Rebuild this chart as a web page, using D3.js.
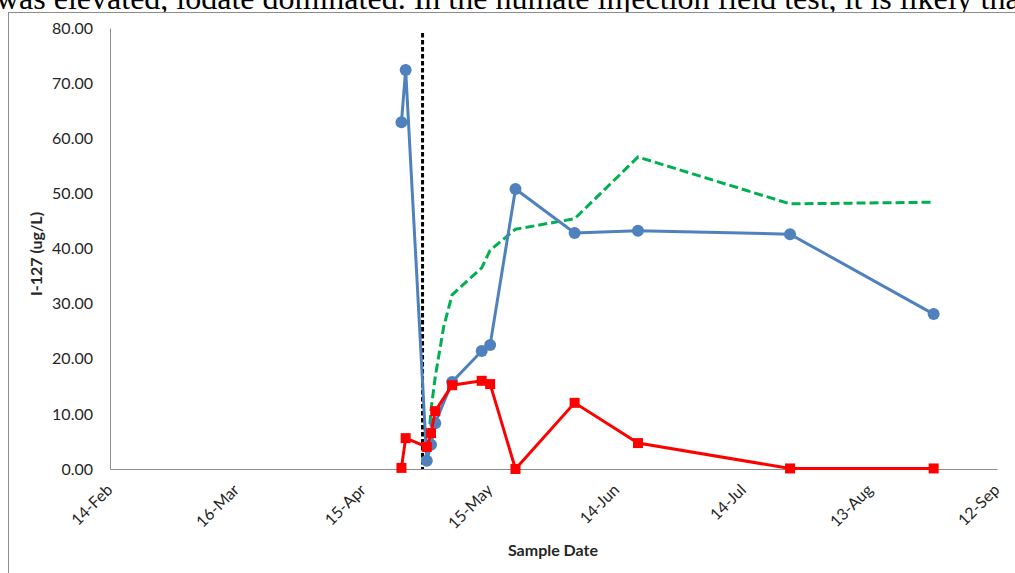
<!DOCTYPE html>
<html lang="en">
<head>
  <meta charset="UTF-8">
  <title>I-127 by Sample Date</title>
  <script src="https://d3js.org/d3.v7.min.js"></script>
  <style>
    body {
      margin: 0;
      background: #fff;
    }

    svg {
      display: block;
    }

    .tick text {
      font-family: Lato, "Open Sans", sans-serif;
      font-size: 16px;
      fill: #262626;
    }

    .axis-title {
      font-family: Lato, "Open Sans", sans-serif;
      font-size: 16px;
      font-weight: bold;
      fill: #262626;
    }

    .doc-text {
      font-family: "Liberation Serif", "Times New Roman", serif;
      font-size: 32px;
      fill: #000;
    }
  </style>
</head>
<body>

<svg width="1015" height="573"></svg>

<script>
  // values
  const sampleDates = ["2013-04-24", "2013-04-25", "2013-04-30", "2013-05-01", "2013-05-02", "2013-05-06",
                       "2013-05-13", "2013-05-15", "2013-05-21", "2013-06-04", "2013-06-19", "2013-07-25", "2013-08-28"];
  const blueValues = [62.9, 72.4, 1.5, 4.4, 8.3, 15.8, 21.4, 22.5, 50.8, 42.8, 43.2, 42.6, 28.1];
  const redValues = [0.2, 5.6, 4.0, 6.5, 10.5, 15.2, 16.0, 15.4, 0.0, 12.0, 4.7, 0.1, 0.1];

  const greenDates = ["2013-04-30", "2013-05-01", "2013-05-02", "2013-05-04", "2013-05-06", "2013-05-13",
                      "2013-05-15", "2013-05-21", "2013-06-04", "2013-06-19", "2013-07-25", "2013-08-28"];
  const greenValues = [1.1, 10.7, 16.7, 25.8, 31.6, 36.5, 39.7, 43.5, 45.4, 56.6, 48.1, 48.4];

  const injectionDate = "2013-04-29";
  const xTickLabels = ["14-Feb", "16-Mar", "15-Apr", "15-May", "14-Jun", "14-Jul", "13-Aug", "12-Sep"];
  const yTicks = [0, 10, 20, 30, 40, 50, 60, 70, 80];

  const parseDate = d3.timeParse("%Y-%m-%d");
  const parseTick = s => d3.timeParse("%d-%b-%Y")(s + "-2013");

  const svg = d3.select("svg");

  // cropped line of document text above the chart
  svg.append("text")
    .attr("class", "doc-text")
    .attr("x", -4)
    .attr("y", 9)
    .text("was elevated, iodate dominated. In the humate injection field test, it is likely that");

  // chart frame
  svg.append("rect")
    .attr("x", 8.5)
    .attr("y", 12.5)
    .attr("width", 1100)
    .attr("height", 600)
    .attr("fill", "#fff")
    .attr("stroke", "#8c8c8c");

  const plotLeft = 110, plotRight = 997, plotTop = 28, plotBottom = 469;

  const x = d3.scaleTime()
    .domain([parseTick(xTickLabels[0]), parseTick(xTickLabels[xTickLabels.length - 1])])
    .range([plotLeft, plotRight]);

  const y = d3.scaleLinear()
    .domain([0, 80])
    .range([plotBottom, plotTop]);

  // y axis
  const yAxis = svg.append("g")
    .attr("transform", `translate(${plotLeft},0)`)
    .call(d3.axisLeft(y).tickValues(yTicks).tickFormat(d3.format(".2f")).tickSize(0).tickPadding(17));
  yAxis.select(".domain").attr("stroke", "#8c8c8c");

  // x axis
  const xAxis = svg.append("g")
    .attr("transform", `translate(0,${plotBottom})`)
    .call(d3.axisBottom(x).tickValues(xTickLabels.map(parseTick)).tickFormat(d3.timeFormat("%d-%b")).tickSize(0));
  xAxis.select(".domain").attr("stroke", "#8c8c8c");
  xAxis.selectAll(".tick text")
    .attr("text-anchor", "end")
    .attr("dy", 0)
    .attr("y", 0)
    .attr("transform", "translate(3,22) rotate(-45)");

  // axis titles
  svg.append("text")
    .attr("class", "axis-title")
    .attr("text-anchor", "middle")
    .attr("transform", "translate(42,254) rotate(-90)")
    .text("I-127 (ug/L)");

  svg.append("text")
    .attr("class", "axis-title")
    .attr("text-anchor", "middle")
    .attr("x", 553)
    .attr("y", 556)
    .text("Sample Date");

  // injection marker
  svg.append("line")
    .attr("x1", x(parseDate(injectionDate)))
    .attr("x2", x(parseDate(injectionDate)))
    .attr("y1", 33)
    .attr("y2", y(0))
    .attr("stroke", "#000")
    .attr("stroke-width", 3)
    .attr("stroke-dasharray", "4.5,2.5");

  const blue = sampleDates.map((d, i) => ({date: parseDate(d), value: blueValues[i]}));
  const red = sampleDates.map((d, i) => ({date: parseDate(d), value: redValues[i]}));
  const green = greenDates.map((d, i) => ({date: parseDate(d), value: greenValues[i]}));

  const line = d3.line()
    .x(d => x(d.date))
    .y(d => y(d.value));

  // green dashed series
  svg.append("path")
    .datum(green)
    .attr("d", line)
    .attr("fill", "none")
    .attr("stroke", "#00b050")
    .attr("stroke-width", 3)
    .attr("stroke-dasharray", "9,4");

  // blue series
  svg.append("path")
    .datum(blue)
    .attr("d", line)
    .attr("fill", "none")
    .attr("stroke", "#4f81bd")
    .attr("stroke-width", 3);

  svg.selectAll(".blue-dot")
    .data(blue)
    .enter()
    .append("circle")
    .attr("class", "blue-dot")
    .attr("cx", d => x(d.date))
    .attr("cy", d => y(d.value))
    .attr("r", 6)
    .attr("fill", "#4f81bd");

  // red series
  svg.append("path")
    .datum(red)
    .attr("d", line)
    .attr("fill", "none")
    .attr("stroke", "#ff0000")
    .attr("stroke-width", 3);

  svg.selectAll(".red-sq")
    .data(red)
    .enter()
    .append("rect")
    .attr("class", "red-sq")
    .attr("x", d => x(d.date) - 5)
    .attr("y", d => y(d.value) - 5)
    .attr("width", 10)
    .attr("height", 10)
    .attr("fill", "#ff0000");
</script>

</body>
</html>
